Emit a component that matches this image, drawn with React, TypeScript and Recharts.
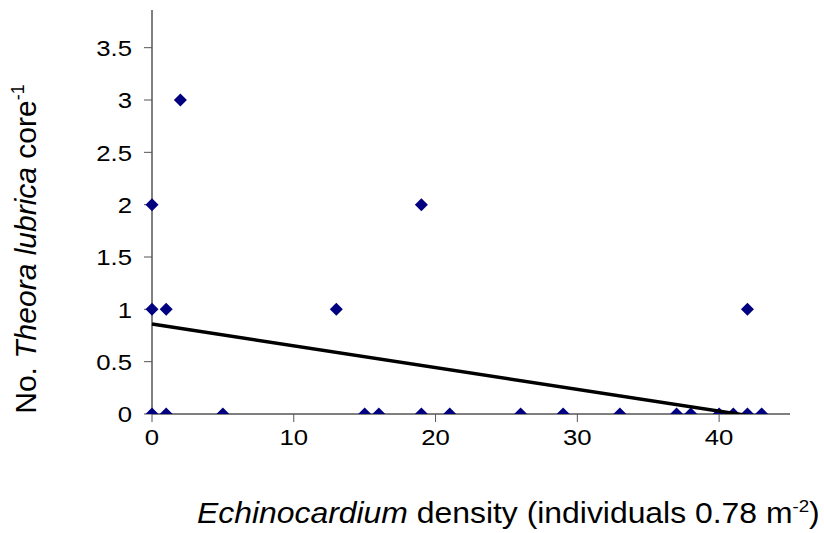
import React from 'react';
import { ScatterChart, Scatter, XAxis, YAxis, Label } from 'recharts';

// Echinocardium density per core (x) and Theora lubrica count (y)
const densities = [0, 0, 0, 1, 1, 2, 5, 13, 15, 16, 19, 19, 21, 26, 29, 33, 37, 38, 40, 41, 42, 42, 43];
const counts = [0, 1, 2, 0, 1, 3, 0, 1, 0, 0, 0, 2, 0, 0, 0, 0, 0, 0, 0, 0, 0, 1, 0];

// linear trendline end points
const trendX = [0, 43];
const trendY = [0.86, -0.035];

const xTicks = [0, 10, 20, 30, 40];
const yTicks = [0, 0.5, 1, 1.5, 2, 2.5, 3, 3.5];

const points = densities.map((x, i) => ({ x, y: counts[i] }));
const trend = trendX.map((x, i) => ({ x, y: trendY[i] }));

const FONT = 'Liberation Sans, Arial, sans-serif';
// the original figure is a little stretched sideways
const STRETCH = 1.12;

const Diamond = (props: any) => {
  const { cx, cy } = props;
  const r = 6.5;
  return (
    <polygon
      points={`${cx},${cy - r} ${cx + r},${cy} ${cx},${cy + r} ${cx - r},${cy}`}
      fill="#000080"
    />
  );
};

const XTick = ({ x, y, payload }: any) => (
  <text
    transform={`translate(${x}, ${y}) scale(${STRETCH}, 1)`}
    textAnchor="middle"
    dy="0.71em"
    fontSize={23}
    fontFamily={FONT}
    fill="#000"
  >
    {payload.value}
  </text>
);

const YTick = ({ x, y, payload }: any) => (
  <text
    transform={`translate(${x}, ${y}) scale(${STRETCH}, 1)`}
    textAnchor="end"
    dy="0.355em"
    fontSize={23}
    fontFamily={FONT}
    fill="#000"
  >
    {payload.value}
  </text>
);

const XTitle = () => (
  <text
    transform="translate(197, 523) scale(1.1, 1)"
    textAnchor="start"
    fontSize={29}
    fontFamily={FONT}
    fill="#000"
  >
    <tspan fontStyle="italic">Echinocardium</tspan>
    <tspan> density (individuals 0.78 m</tspan>
    <tspan fontSize={17} dy={-11}>-2</tspan>
    <tspan dy={11}>)</tspan>
  </text>
);

const YTitle = () => (
  <text
    transform="translate(36, 249) rotate(-90)"
    textAnchor="middle"
    fontSize={30}
    fontFamily={FONT}
    fill="#000"
  >
    <tspan>No. </tspan>
    <tspan fontStyle="italic">Theora lubrica</tspan>
    <tspan> core</tspan>
    <tspan fontSize={18} dy={-12}>-1</tspan>
  </text>
);

export default function App() {
  return (
    <div
      style={{
        position: 'absolute',
        left: 0,
        top: 0,
        width: 824,
        height: 533,
        background: '#fff',
        overflow: 'hidden',
      }}
    >
      <ScatterChart
        width={824}
        height={533}
        margin={{ top: 10, right: 34, bottom: 0, left: 0 }}
        style={{ overflow: 'visible' }}
      >
        <XAxis
          type="number"
          dataKey="x"
          domain={[0, 45]}
          ticks={xTicks}
          height={119}
          tickSize={8}
          tickMargin={7}
          axisLine={{ stroke: '#000' }}
          tickLine={{ stroke: '#555' }}
          tick={<XTick />}
        >
          <Label content={<XTitle />} />
        </XAxis>
        <YAxis
          type="number"
          dataKey="y"
          domain={[0, 3.86]}
          ticks={yTicks}
          width={152}
          tickSize={8}
          tickMargin={12}
          axisLine={{ stroke: '#000' }}
          tickLine={{ stroke: '#555' }}
          tick={<YTick />}
          allowDataOverflow
        >
          <Label content={<YTitle />} />
        </YAxis>
        <Scatter data={points} shape={<Diamond />} isAnimationActive={false} />
        <Scatter
          data={trend}
          line={{ stroke: '#000', strokeWidth: 3.5 }}
          shape={() => null}
          isAnimationActive={false}
        />
      </ScatterChart>
    </div>
  );
}
